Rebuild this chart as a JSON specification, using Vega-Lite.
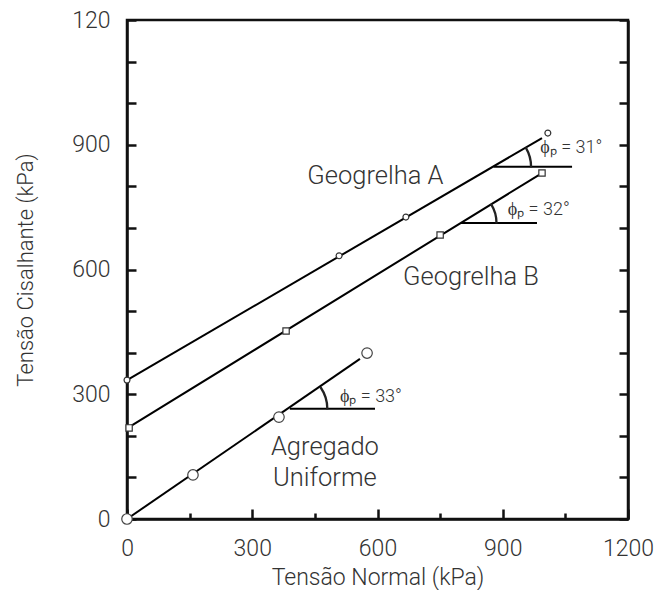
{
  "$schema": "https://vega.github.io/schema/vega-lite/v6.json",
  "width": 501,
  "height": 499,
  "autosize": {"type": "none"},
  "padding": {"left": 127, "top": 20, "right": 28, "bottom": 71},
  "background": "white",
  "config": {
    "view": {"stroke": "#111", "strokeWidth": 2.5},
    "axis": {
      "domain": true, "ticks": true,
      "domainColor": "#111", "domainWidth": 2.5, "tickColor": "#111", "tickWidth": 2.5,
      "labelFont": "Roboto", "labelFontWeight": 300, "labelFontSize": 23, "labelColor": "#333",
      "titleFont": "Roboto", "titleFontWeight": 300, "titleFontSize": 23, "titleColor": "#333",
      "grid": false
    },
    "text": {"font": "Roboto", "fontWeight": 300, "color": "#333"}
  },
  "datasets": {
    "ptsA": [{"x": 0, "y": 334}, {"x": 508, "y": 633}, {"x": 668, "y": 726}, {"x": 1008, "y": 928}],
    "ptsB": [{"x": 5, "y": 219}, {"x": 381, "y": 452}, {"x": 750, "y": 683}, {"x": 994, "y": 832}],
    "ptsU": [{"x": 0, "y": 0}, {"x": 158, "y": 106}, {"x": 364, "y": 245}, {"x": 575, "y": 399}],
    "lines": [
      {"serie": "Geogrelha A", "x": 0, "y": 334}, {"serie": "Geogrelha A", "x": 994, "y": 916},
      {"serie": "Geogrelha B", "x": 0, "y": 218}, {"serie": "Geogrelha B", "x": 994, "y": 832},
      {"serie": "Agregado Uniforme", "x": 0, "y": 0}, {"serie": "Agregado Uniforme", "x": 558, "y": 385}
    ],
    "hlines": [
      {"x": 878, "x2": 1066, "y": 847},
      {"x": 800, "x2": 982, "y": 712},
      {"x": 390, "x2": 594, "y": 265}
    ],
    "arcA": [{"x": 878, "y": 847}],
    "arcB": [{"x": 800, "y": 712}],
    "arcU": [{"x": 390, "y": 265}],
    "names": [
      {"x": 595, "y": 825, "label": "Geogrelha A"},
      {"x": 824, "y": 582, "label": "Geogrelha B"},
      {"x": 474, "y": 172, "label": "Agregado"},
      {"x": 474, "y": 98, "label": "Uniforme"}
    ],
    "phis": [
      {"x": 990, "y": 893, "label": "ϕₚ = 31°"},
      {"x": 912, "y": 743, "label": "ϕₚ = 32°"},
      {"x": 510, "y": 293, "label": "ϕₚ = 33°"}
    ],
    "axisdummy": [{"x": 0, "y": 0}]
  },
  "layer": [
    {
      "data": {"name": "axisdummy"},
      "mark": {"type": "point", "opacity": 0},
      "encoding": {
        "x": {"field": "x", "type": "quantitative", "scale": {"domain": [0, 1200], "nice": false},
          "axis": {"title": "Tensão Normal (kPa)", "values": [0, 150, 300, 450, 600, 750, 900, 1050, 1200],
            "format": "d",
            "tickSize": {"condition": {"test": "datum.value % 300 === 0", "value": -10}, "value": -6},
            "labelExpr": "datum.value % 300 === 0 ? datum.label : ''", "labelFlush": false,
            "labelPadding": 28, "titlePadding": 6}},
        "y": {"field": "y", "type": "quantitative", "scale": {"domain": [0, 1200], "nice": false},
          "axis": {"title": "Tensão Cisalhante (kPa)", "orient": "left", "format": "d", "tickSize": -9,
            "values": [0, 100, 200, 300, 400, 500, 600, 700, 800, 900, 1000, 1100, 1200],
            "labelExpr": "datum.value === 1200 ? '120' : (datum.value % 300 === 0 ? datum.label : '')",
            "labelPadding": 26, "titlePadding": 34, "titleFontSize": 22}}
      }
    },
    {
      "data": {"name": "axisdummy"},
      "mark": {"type": "point", "opacity": 0},
      "encoding": {
        "x": {"field": "x", "type": "quantitative"},
        "y": {"field": "y", "type": "quantitative",
          "axis": {"title": null, "orient": "right", "labels": false, "tickSize": -9,
            "values": [0, 100, 200, 300, 400, 500, 600, 700, 800, 900, 1000, 1100, 1200]}}
      }
    },
    {
      "data": {"name": "lines"},
      "mark": {"type": "line", "color": "black", "strokeWidth": 2},
      "encoding": {
        "x": {"field": "x", "type": "quantitative"},
        "y": {"field": "y", "type": "quantitative", "axis": null},
        "detail": {"field": "serie"}
      }
    },
    {
      "data": {"name": "hlines"},
      "mark": {"type": "rule", "color": "black", "strokeWidth": 2},
      "encoding": {
        "x": {"field": "x", "type": "quantitative"},
        "x2": {"field": "x2"},
        "y": {"field": "y", "type": "quantitative", "axis": null}
      }
    },
    {
      "data": {"name": "arcA"},
      "mark": {"type": "arc", "radius": 38, "radius2": 37, "theta": 1.042, "theta2": 1.571, "stroke": "#222", "strokeWidth": 1.3, "fill": null},
      "encoding": {"x": {"field": "x", "type": "quantitative"}, "y": {"field": "y", "type": "quantitative", "axis": null}}
    },
    {
      "data": {"name": "arcB"},
      "mark": {"type": "arc", "radius": 36, "radius2": 35, "theta": 1.019, "theta2": 1.571, "stroke": "#222", "strokeWidth": 1.3, "fill": null},
      "encoding": {"x": {"field": "x", "type": "quantitative"}, "y": {"field": "y", "type": "quantitative", "axis": null}}
    },
    {
      "data": {"name": "arcU"},
      "mark": {"type": "arc", "radius": 38, "radius2": 37, "theta": 0.967, "theta2": 1.571, "stroke": "#222", "strokeWidth": 1.3, "fill": null},
      "encoding": {"x": {"field": "x", "type": "quantitative"}, "y": {"field": "y", "type": "quantitative", "axis": null}}
    },
    {
      "data": {"name": "ptsA"},
      "mark": {"type": "point", "shape": "circle", "size": 35, "stroke": "#333", "strokeWidth": 1.2, "fill": "white", "filled": false, "opacity": 1},
      "encoding": {"x": {"field": "x", "type": "quantitative"}, "y": {"field": "y", "type": "quantitative", "axis": null}}
    },
    {
      "data": {"name": "ptsB"},
      "mark": {"type": "point", "shape": "square", "size": 40, "stroke": "#333", "strokeWidth": 1.2, "fill": "white", "filled": false, "opacity": 1},
      "encoding": {"x": {"field": "x", "type": "quantitative"}, "y": {"field": "y", "type": "quantitative", "axis": null}}
    },
    {
      "data": {"name": "ptsU"},
      "mark": {"type": "point", "shape": "circle", "size": 110, "stroke": "#444", "strokeWidth": 1.2, "fill": "white", "filled": false, "opacity": 1},
      "encoding": {"x": {"field": "x", "type": "quantitative"}, "y": {"field": "y", "type": "quantitative", "axis": null}}
    },
    {
      "data": {"name": "names"},
      "mark": {"type": "text", "fontSize": 25.5, "align": "center", "baseline": "middle"},
      "encoding": {"x": {"field": "x", "type": "quantitative"}, "y": {"field": "y", "type": "quantitative", "axis": null}, "text": {"field": "label"}}
    },
    {
      "data": {"name": "phis"},
      "mark": {"type": "text", "fontSize": 18, "align": "left", "baseline": "middle"},
      "encoding": {"x": {"field": "x", "type": "quantitative"}, "y": {"field": "y", "type": "quantitative", "axis": null}, "text": {"field": "label"}}
    }
  ],
  "resolve": {"axis": {"y": "independent"}}
}
